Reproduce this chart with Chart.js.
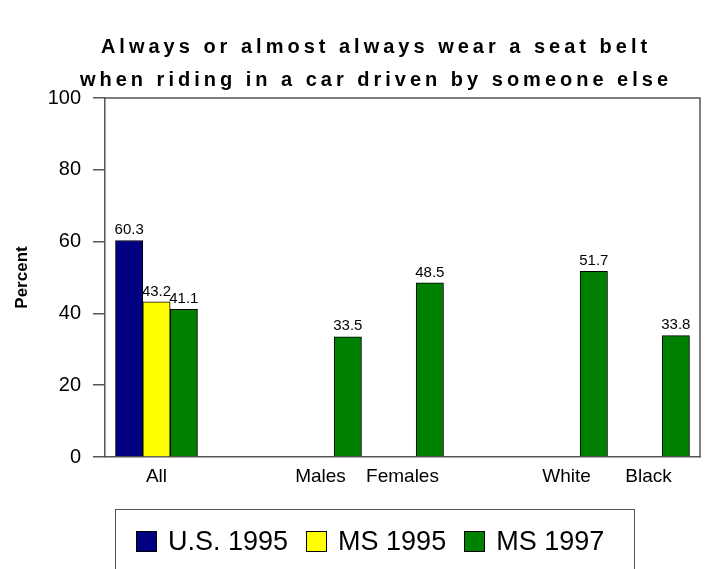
<!DOCTYPE html>
<html>
<head>
<meta charset="utf-8">
<script src="https://cdn.jsdelivr.net/npm/chart.js@4.4.1/dist/chart.umd.min.js"></script>
<style>
  html, body { margin: 0; padding: 0; background: #fff; }
  #wrap { position: relative; width: 711px; height: 569px; overflow: hidden; font-family: 'Liberation Sans', Arial, sans-serif; }
  #chartBox { position: absolute; left: 0; top: 0; width: 711px; height: 569px; }
  #title { position: absolute; left: 0; top: 30px; width: 752px; text-align: center; font-weight: bold; font-size: 20px; line-height: 33px; letter-spacing: 4px; color: #000; }
  #legend { position: absolute; left: 115px; top: 509px; width: 520px; height: 80px; border: 1.5px solid #555; box-sizing: border-box; display: flex; gap: 18px; padding: 21px 0 0 20px; align-items: flex-start; }
  .item { display: flex; align-items: center; font-size: 27px; line-height: 21px; color: #000; }
  .swatch { width: 21px; height: 21px; border: 1px solid #000; box-sizing: border-box; margin-right: 11px; }
</style>
</head>
<body>
<div id="wrap">
  <div id="chartBox"><canvas id="beltChart"></canvas></div>
  <div id="title">Always or almost always wear a seat belt<br>when riding in a car driven by someone else</div>
  <div id="legend"></div>
</div>
<script>
// Groups along the x axis (blank slots keep the gaps between groups)
const groups = ['All', '', 'Males', 'Females', '', 'White', 'Black'];

// Percent who always or almost always buckle up as a passenger
const us1995 = [60.3, null, null, null, null, null, null];
const ms1995 = [43.2, null, null, null, null, null, null];
const ms1997 = [41.1, null, 33.5, 48.5, null, 51.7, 33.8];

const seriesNames = ['U.S. 1995', 'MS 1995', 'MS 1997'];
const seriesColors = ['#000080', '#ffff00', '#008000'];
const yTicks = [0, 20, 40, 60, 80, 100];

Chart.defaults.font.family = "'Liberation Sans', Arial, sans-serif";
Chart.defaults.color = '#000';

const toPoints = vals => vals.map((v, i) => ({ x: i, y: v }));

// Value printed above each bar
const valueLabels = {
    id: 'valueLabels',
    afterDatasetsDraw(chart) {
        const ctx = chart.ctx;
        ctx.save();
        ctx.font = "15px 'Liberation Sans', Arial, sans-serif";
        ctx.fillStyle = '#000';
        ctx.textAlign = 'center';
        ctx.textBaseline = 'bottom';
        chart.data.datasets.forEach((ds, di) => {
            chart.getDatasetMeta(di).data.forEach((bar, i) => {
                const v = ds.data[i].y;
                if (v === null) return;
                ctx.fillText(v.toFixed(1), bar.x, bar.y - 3);
            });
        });
        ctx.restore();
    }
};

// Top and right edges of the plot frame
const plotFrame = {
    id: 'plotFrame',
    afterDraw(chart) {
        const { ctx, chartArea: a } = chart;
        ctx.save();
        ctx.strokeStyle = '#555';
        ctx.lineWidth = 1.5;
        ctx.beginPath();
        ctx.moveTo(a.left, a.top);
        ctx.lineTo(a.right, a.top);
        ctx.lineTo(a.right, a.bottom);
        ctx.stroke();
        ctx.restore();
    }
};

const datasets = [us1995, ms1995, ms1997].map((vals, i) => ({
    label: seriesNames[i],
    data: toPoints(vals),
    backgroundColor: seriesColors[i],
    borderColor: '#000',
    borderWidth: 1,
    barPercentage: 1,
    categoryPercentage: 1
}));

new Chart(document.getElementById('beltChart'), {
    type: 'bar',
    data: { datasets: datasets },
    plugins: [valueLabels, plotFrame],
    options: {
        responsive: true,
        maintainAspectRatio: false,
        animation: false,
        layout: { padding: { top: 98, right: 11, left: 0, bottom: 0 } },
        plugins: {
            legend: { display: false },
            tooltip: { enabled: false }
        },
        scales: {
            x: {
                type: 'linear',
                offset: false,
                min: -0.628,
                max: 6.628,
                grid: { display: false, drawTicks: false, offset: false },
                border: { display: true, color: '#555', width: 1.5 },
                afterBuildTicks: s => { s.ticks = groups.map((g, i) => ({ value: i })); },
                ticks: {
                    callback: v => groups[v],
                    autoSkip: false,
                    maxRotation: 0,
                    padding: 8,
                    font: { size: 19 }
                },
                afterFit: s => { s.height = 112; }
            },
            y: {
                min: 0,
                max: 100,
                afterBuildTicks: s => { s.ticks = yTicks.map(v => ({ value: v })); },
                grid: { drawOnChartArea: false, drawTicks: true, tickLength: 12, color: '#555', lineWidth: 1.5 },
                border: { color: '#555', width: 1.5 },
                ticks: { padding: 12, font: { size: 20 } },
                title: {
                    display: true,
                    text: 'Percent',
                    font: { size: 17, weight: 'bold' },
                    padding: { top: 12, bottom: 0 }
                },
                afterFit: s => { s.width = 105; }
            }
        }
    }
});

// Legend row under the chart
const legend = document.getElementById('legend');
seriesNames.forEach((name, i) => {
    const item = document.createElement('div');
    item.className = 'item';
    item.innerHTML = `<span class="swatch" style="background:${seriesColors[i]}"></span><span>${name}</span>`;
    legend.appendChild(item);
});
</script>
</body>
</html>
